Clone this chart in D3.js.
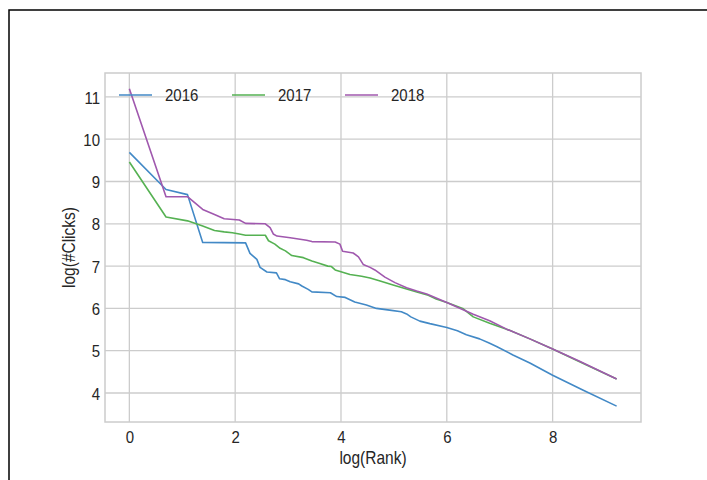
<!DOCTYPE html>
<html>
<head>
<meta charset="utf-8">
<script src="https://cdn.jsdelivr.net/npm/d3@7/dist/d3.min.js"></script>
<style>
  html, body { margin: 0; padding: 0; background: #fff; }
  svg { display: block; }
  text { font-family: "Liberation Sans", Arial, sans-serif; fill: #262626; }
</style>
</head>
<body>
<svg id="chart" width="707" height="480"></svg>
<script>
// ---- data ----
const seriesNames = ["2016", "2017", "2018"];
const seriesColors = ["#4289c6", "#55b152", "#a058ae"];

const x2016 = [0, 0.693, 1.099, 1.386, 2.197, 2.28, 2.41, 2.47, 2.60, 2.78, 2.84, 2.95, 3.04, 3.20, 3.26, 3.38, 3.45, 3.80, 3.92, 4.08, 4.26, 4.48, 4.67, 4.92, 5.14, 5.24, 5.32, 5.49, 5.68, 6.0, 6.20, 6.37, 6.62, 6.80, 6.94, 7.25, 7.57, 8.0, 8.57, 9.21];
const y2016 = [9.69, 8.81, 8.69, 7.56, 7.55, 7.30, 7.16, 6.97, 6.86, 6.84, 6.70, 6.68, 6.63, 6.58, 6.53, 6.45, 6.39, 6.37, 6.28, 6.26, 6.15, 6.08, 6.00, 5.96, 5.92, 5.87, 5.80, 5.70, 5.64, 5.55, 5.47, 5.38, 5.28, 5.18, 5.10, 4.90, 4.71, 4.42, 4.07, 3.69];

const x2017 = [0, 0.693, 1.099, 1.386, 1.609, 1.792, 1.946, 2.079, 2.197, 2.57, 2.63, 2.75, 2.85, 2.95, 3.07, 3.29, 3.45, 3.60, 3.75, 3.82, 3.89, 4.17, 4.39, 4.55, 4.74, 5.0, 5.24, 5.45, 5.65, 5.80, 6.0, 6.30, 6.50, 6.81, 7.13, 7.57, 8.0, 8.51, 9.21];
const y2017 = [9.46, 8.16, 8.07, 7.95, 7.84, 7.81, 7.79, 7.76, 7.73, 7.73, 7.60, 7.52, 7.42, 7.36, 7.25, 7.20, 7.12, 7.06, 7.00, 6.99, 6.91, 6.80, 6.76, 6.72, 6.65, 6.55, 6.46, 6.38, 6.31, 6.22, 6.14, 6.00, 5.80, 5.65, 5.51, 5.28, 5.04, 4.74, 4.33];

const x2018 = [0, 0.693, 1.099, 1.386, 1.609, 1.792, 2.079, 2.197, 2.57, 2.66, 2.72, 2.79, 3.04, 3.35, 3.45, 3.89, 3.98, 4.03, 4.23, 4.33, 4.42, 4.55, 4.64, 4.83, 5.02, 5.24, 5.43, 5.62, 6.0, 6.50, 6.81, 7.13, 7.57, 8.0, 8.51, 9.21];
const y2018 = [11.19, 8.64, 8.64, 8.34, 8.22, 8.12, 8.09, 8.01, 8.00, 7.91, 7.76, 7.71, 7.67, 7.61, 7.58, 7.57, 7.52, 7.35, 7.31, 7.22, 7.04, 6.97, 6.91, 6.74, 6.61, 6.49, 6.41, 6.34, 6.14, 5.86, 5.71, 5.51, 5.28, 5.04, 4.75, 4.33];

const xTicks = [0, 2, 4, 6, 8];
const yTicks = [4, 5, 6, 7, 8, 9, 10, 11];
const xLabel = "log(Rank)";
const yLabel = "log(#Clicks)";

// ---- chart ----
const svg = d3.select("#chart");
const SY = 1.15; // vertical stretch of the reference lettering

// outer figure frame (top and left edges visible)
svg.append("rect")
  .attr("x", 9).attr("y", 10).attr("width", 720).attr("height", 500)
  .attr("fill", "none").attr("stroke", "#000").attr("stroke-width", 1.5);

const plot = { left: 105, right: 641, top: 73, bottom: 422 };

const allX = x2016.concat(x2017, x2018);
const allY = y2016.concat(y2017, y2018);
const xmin = d3.min(allX), xmax = d3.max(allX);
const ymin = d3.min(allY), ymax = d3.max(allY);
const xm = (xmax - xmin) * 0.05, ym = (ymax - ymin) * 0.05;

const x = d3.scaleLinear().domain([xmin - xm, xmax + xm]).range([plot.left, plot.right]);
const y = d3.scaleLinear().domain([ymin - ym, ymax + ym]).range([plot.bottom, plot.top]);

const g = svg.append("g");

// grid
g.append("g").selectAll("line").data(xTicks).join("line")
  .attr("x1", d => x(d)).attr("x2", d => x(d))
  .attr("y1", plot.top).attr("y2", plot.bottom)
  .attr("stroke", "#cccccc").attr("stroke-width", 1.3);
g.append("g").selectAll("line").data(yTicks).join("line")
  .attr("x1", plot.left).attr("x2", plot.right)
  .attr("y1", d => y(d)).attr("y2", d => y(d))
  .attr("stroke", "#cccccc").attr("stroke-width", 1.3);

// spines
g.append("rect")
  .attr("x", plot.left).attr("y", plot.top)
  .attr("width", plot.right - plot.left).attr("height", plot.bottom - plot.top)
  .attr("fill", "none").attr("stroke", "#cccccc").attr("stroke-width", 1.5);

// axes (labels only, seaborn whitegrid style: no tick marks)
const xAxis = d3.axisBottom(x).tickValues(xTicks).tickSize(0).tickFormat(d3.format("d"));
const yAxis = d3.axisLeft(y).tickValues(yTicks).tickSize(0).tickFormat(d3.format("d"));

const gx = g.append("g").attr("transform", `translate(0,${plot.bottom})`).call(xAxis);
const gy = g.append("g").attr("transform", `translate(${plot.left},0)`).call(yAxis);
[gx, gy].forEach(a => {
  a.select(".domain").remove();
  a.selectAll("text").attr("font-size", 15).attr("fill", "#262626")
    .attr("font-family", '"Liberation Sans", Arial, sans-serif')
    .attr("dy", null);
});
gx.selectAll("text").attr("y", 21 / SY).attr("transform", `scale(1,${SY})`);
gy.selectAll("text").attr("x", -5).attr("y", 6.1 / SY).attr("transform", `scale(1,${SY})`);

// axis titles
svg.append("text")
  .attr("transform", `translate(${(plot.left + plot.right) / 2},464) scale(1,${SY})`)
  .attr("text-anchor", "middle").attr("font-size", 15.5).text(xLabel);
svg.append("text")
  .attr("transform", `translate(75,${(plot.top + plot.bottom) / 2}) rotate(-90) scale(1,${SY})`)
  .attr("text-anchor", "middle").attr("font-size", 15.5).text(yLabel);

// lines
const data = [
  { name: seriesNames[0], color: seriesColors[0], pts: x2016.map((v, i) => [v, y2016[i]]) },
  { name: seriesNames[1], color: seriesColors[1], pts: x2017.map((v, i) => [v, y2017[i]]) },
  { name: seriesNames[2], color: seriesColors[2], pts: x2018.map((v, i) => [v, y2018[i]]) }
];
const line = d3.line().x(d => x(d[0])).y(d => y(d[1]));
g.append("g").selectAll("path").data(data).join("path")
  .attr("d", d => line(d.pts))
  .attr("fill", "none").attr("stroke", d => d.color)
  .attr("stroke-width", 1.6).attr("stroke-linejoin", "round");

// legend (3 columns, top-left inside axes)
const lg = svg.append("g");
const legendX0 = 119, legendY = 95, colW = 113;
data.forEach((d, i) => {
  const lx = legendX0 + i * colW;
  lg.append("line").attr("x1", lx).attr("x2", lx + 33)
    .attr("y1", legendY).attr("y2", legendY)
    .attr("stroke", d.color).attr("stroke-width", 1.6);
  lg.append("text")
    .attr("transform", `translate(${lx + 46},${legendY + 6.2}) scale(1,${SY})`)
    .attr("font-size", 15).text(d.name);
});
</script>
</body>
</html>
